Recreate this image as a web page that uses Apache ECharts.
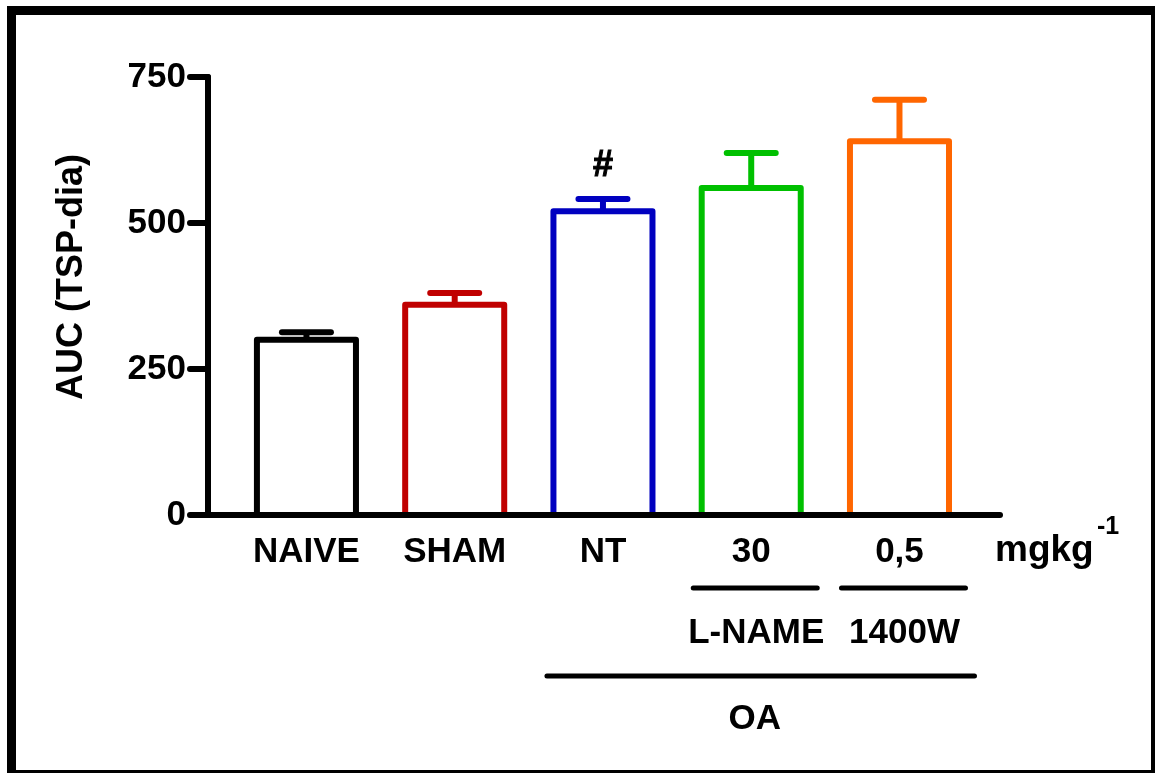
<!DOCTYPE html>
<html>
<head>
<meta charset="utf-8">
<script src="https://cdn.jsdelivr.net/npm/echarts@6/dist/echarts.min.js"></script>
<style>
html,body{margin:0;padding:0;background:#fff;}
#chart{width:1155px;height:773px;}
</style>
</head>
<body>
<div id="chart"></div>
<script>
// ---- data ----
const categories = ['NAIVE', 'SHAM', 'NT', '30', '0,5'];
const means = [300, 360, 520, 560, 640];
const sems = [13, 20, 21, 60, 71];
const marks = ['', '', '#', '', ''];
const colors = ['#000000', '#C00000', '#0000C0', '#00C000', '#FF6600'];
const yTicks = [0, 250, 500, 750];
const yTitle = 'AUC (TSP-dia)';
const unitLabel = 'mgkg';
const unitSup = '-1';
const drugGroups = [{ name: 'L-NAME', idx: 3 }, { name: '1400W', idx: 4 }];
const outerGroup = { name: 'OA', from: 2, to: 4 };

const FONT = '"Liberation Sans", Arial, Helvetica, sans-serif';
const OFFSET = 0.664;   // first bar centre, in band units
const BAR_W = 0.668;    // bar width, in band units

const chart = echarts.init(document.getElementById('chart'), null, { renderer: 'canvas' });

const seriesData = means.map((m, i) => [i + OFFSET, m, sems[i], i]);

chart.setOption({
  backgroundColor: '#ffffff',
  animation: false,
  grid: { left: 208, right: 155, top: 77, bottom: 258, containLabel: false },
  xAxis: {
    type: 'value', min: 0, max: 5.342,
    axisLine: { show: true, onZero: false, lineStyle: { color: '#000', width: 6, cap: 'round' } },
    axisTick: { show: false }, axisLabel: { show: false }, splitLine: { show: false }
  },
  yAxis: {
    type: 'value', min: yTicks[0], max: yTicks[yTicks.length - 1], interval: yTicks[1] - yTicks[0],
    axisLine: { show: true, lineStyle: { color: '#000', width: 6, cap: 'round' } },
    axisTick: { show: true, inside: false, length: 18, lineStyle: { color: '#000', width: 6, cap: 'round' } },
    axisLabel: { show: true, color: '#000', fontSize: 35, fontWeight: 'bold', fontFamily: FONT, margin: 22 },
    splitLine: { show: false },
    name: yTitle, nameLocation: 'middle', nameRotate: 90, nameGap: 118,
    nameTextStyle: { color: '#000', fontSize: 36, fontWeight: 'bold', fontFamily: FONT, padding: [0, 0, 0, 38] }
  },
  series: [{
    type: 'custom',
    data: seriesData,
    clip: false,
    renderItem: function (params, api) {
      const i = api.value(3);
      const x = api.value(0), v = api.value(1), e = api.value(2);
      const top = api.coord([x, v]);
      const base = api.coord([x, 0]);
      const errTop = api.coord([x, v + e]);
      const w = api.size([BAR_W, 0])[0];
      const col = colors[i];
      const cx = top[0];
      const children = [
        { type: 'polyline', shape: { points: [[cx - w / 2, base[1] - 3], [cx - w / 2, top[1]], [cx + w / 2, top[1]], [cx + w / 2, base[1] - 3]] },
          style: { stroke: col, lineWidth: 6, fill: null, lineJoin: 'round' } },
        { type: 'line', shape: { x1: cx, y1: top[1], x2: cx, y2: errTop[1] }, style: { stroke: col, lineWidth: 6 } },
        { type: 'line', shape: { x1: cx - 24.5, y1: errTop[1], x2: cx + 24.5, y2: errTop[1] }, style: { stroke: col, lineWidth: 6, lineCap: 'round' } },
        { type: 'text', style: { text: categories[i], x: cx, y: base[1] + 37, align: 'center', verticalAlign: 'middle',
          fill: '#000', font: 'bold 35px ' + FONT } }
      ];
      if (marks[i]) {
        children.push({ type: 'text', style: { text: marks[i], x: cx, y: errTop[1] - 33, align: 'center', verticalAlign: 'middle',
          fill: '#000', font: 'bold 36px ' + FONT, stroke: '#000', lineWidth: 1 } });
      }
      return { type: 'group', children: children };
    }
  }]
});

// annotations positioned from the axis scales
const px = (x) => chart.convertToPixel({ xAxisIndex: 0 }, x);
const py = (y) => chart.convertToPixel({ yAxisIndex: 0 }, y);
const baseY = py(0);
const xEnd = px(5.342);
const graphics = [
  { type: 'rect', shape: { x: 11.5, y: 10.5, width: 1144, height: 764 }, style: { stroke: '#000', lineWidth: 9, fill: null }, silent: true },
  { type: 'text', style: { text: unitLabel, x: xEnd - 5, y: baseY + 36, align: 'left', verticalAlign: 'middle', fill: '#000', font: 'bold 37px ' + FONT } },
  { type: 'text', style: { text: unitSup, x: xEnd + 97, y: baseY + 12, align: 'left', verticalAlign: 'middle', fill: '#000', font: 'bold 25px ' + FONT } }
];
drugGroups.forEach(g => {
  const cx = px(g.idx + OFFSET);
  graphics.push({ type: 'line', shape: { x1: cx - 58, y1: baseY + 73, x2: cx + 66, y2: baseY + 73 }, style: { stroke: '#000', lineWidth: 5, lineCap: 'round' } });
  graphics.push({ type: 'text', style: { text: g.name, x: cx + 5, y: baseY + 118, align: 'center', verticalAlign: 'middle', fill: '#000', font: 'bold 35px ' + FONT } });
});
{
  const x1 = px(outerGroup.from + OFFSET) - 56;
  const x2 = px(outerGroup.to + OFFSET) + 75;
  graphics.push({ type: 'line', shape: { x1: x1, y1: baseY + 161, x2: x2, y2: baseY + 161 }, style: { stroke: '#000', lineWidth: 5, lineCap: 'round' } });
  graphics.push({ type: 'text', style: { text: outerGroup.name, x: (x1 + x2) / 2 - 6, y: baseY + 204, align: 'center', verticalAlign: 'middle', fill: '#000', font: 'bold 35px ' + FONT } });
}
chart.setOption({ graphic: graphics });
</script>
</body>
</html>
